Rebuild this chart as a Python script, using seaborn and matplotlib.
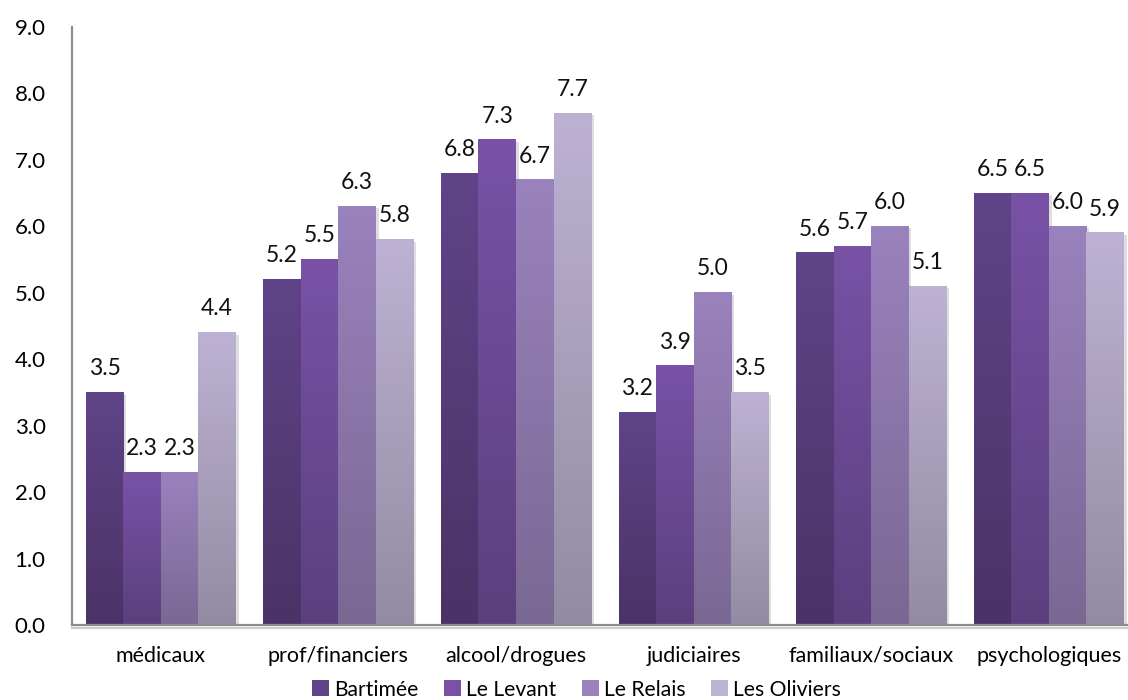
import numpy as np
import pandas as pd
import matplotlib
matplotlib.use("Agg")
import matplotlib.pyplot as plt
import matplotlib.patheffects as pe
from matplotlib.colors import to_rgb
import seaborn as sns

# Problem categories and the four houses
categories = ["médicaux", "prof/financiers", "alcool/drogues", "judiciaires",
              "familiaux/sociaux", "psychologiques"]
sites = ["Bartimée", "Le Levant", "Le Relais", "Les Oliviers"]

bartimee = [3.5, 5.2, 6.8, 3.2, 5.6, 6.5]
le_levant = [2.3, 5.5, 7.3, 3.9, 5.7, 6.5]
le_relais = [2.3, 6.3, 6.7, 5.0, 6.0, 6.0]
les_oliviers = [4.4, 5.8, 7.7, 3.5, 5.1, 5.9]

y_ticks = [0, 1, 2, 3, 4, 5, 6, 7, 8, 9]

# Gradient colours per house: top of bar -> bottom of bar
top_colors = ["#5f4488", "#7952a6", "#9a82bd", "#bdb2d3"]
bottom_colors = ["#4a3366", "#5b3f7e", "#7a6893", "#938ba3"]

df = pd.DataFrame({
    "cat": categories * 4,
    "site": sum([[s] * len(categories) for s in sites], []),
    "val": bartimee + le_levant + le_relais + les_oliviers,
})

plt.rcParams["font.family"] = ["Lato", "DejaVu Sans"]
fig = plt.figure(figsize=(11.28, 7.0), dpi=100)
ax = fig.add_axes([72 / 1128, 75 / 700, 1 - 72 / 1128, 598 / 700])

sns.barplot(data=df, x="cat", y="val", hue="site", order=categories,
            hue_order=sites, palette=top_colors, saturation=1,
            width=0.845, gap=0, ax=ax, legend=True, errorbar=None)

# Paint each bar with a vertical gradient and a soft drop shadow
for ci, cont in enumerate(ax.containers):
    c_top = np.array(to_rgb(top_colors[ci]))
    c_bot = np.array(to_rgb(bottom_colors[ci]))
    t = np.linspace(0, 1, 256)[:, None]
    grad = (c_top[None, :] * (1 - t) + c_bot[None, :] * t)[:, None, :]
    for bar in cont:
        x, w, h = bar.get_x(), bar.get_width(), bar.get_height()
        bar.set_facecolor(bottom_colors[ci])
        bar.set_edgecolor("none")
        bar.set_path_effects([pe.SimplePatchShadow(offset=(2, -1.5), shadow_rgbFace="k", alpha=0.13),
                              pe.Normal()])
        ax.imshow(grad, extent=[x, x + w, 0, h], aspect="auto",
                  origin="upper", zorder=bar.get_zorder() + 0.1,
                  interpolation="bilinear")
        ax.text(x + w / 2, h + 0.2, f"{h:.1f}", ha="center", va="bottom",
                fontsize=16.5, color="#111111", zorder=5)

ax.set_xlim(-0.5, -0.5 + 1056 / 177.6)
ax.set_ylim(0, 9)
ax.set_yticks(y_ticks)
ax.set_yticklabels([f"{v:.1f}" for v in y_ticks], fontsize=16)
ax.tick_params(axis="y", length=0, pad=19)
ax.tick_params(axis="x", length=0, pad=15, labelsize=15.5)
ax.set_xlabel("")
ax.set_ylabel("")

for side in ["top", "right"]:
    ax.spines[side].set_visible(False)
for side in ["left", "bottom"]:
    ax.spines[side].set_color("#8c8c8c")
    ax.spines[side].set_linewidth(1.6)
ax.spines["bottom"].set_path_effects([pe.SimpleLineShadow(offset=(0, -2), alpha=0.2),
                                      pe.Normal()])

handles, labels = ax.get_legend_handles_labels()
ax.legend(handles, labels, loc="center", bbox_to_anchor=(0.478, -0.108),
          ncol=4, frameon=False, fontsize=15.2, handlelength=0.8,
          handleheight=0.8, handletextpad=0.25, columnspacing=1.2,
          borderpad=0.1)

fig.savefig("out.png", dpi=100, facecolor="white")
